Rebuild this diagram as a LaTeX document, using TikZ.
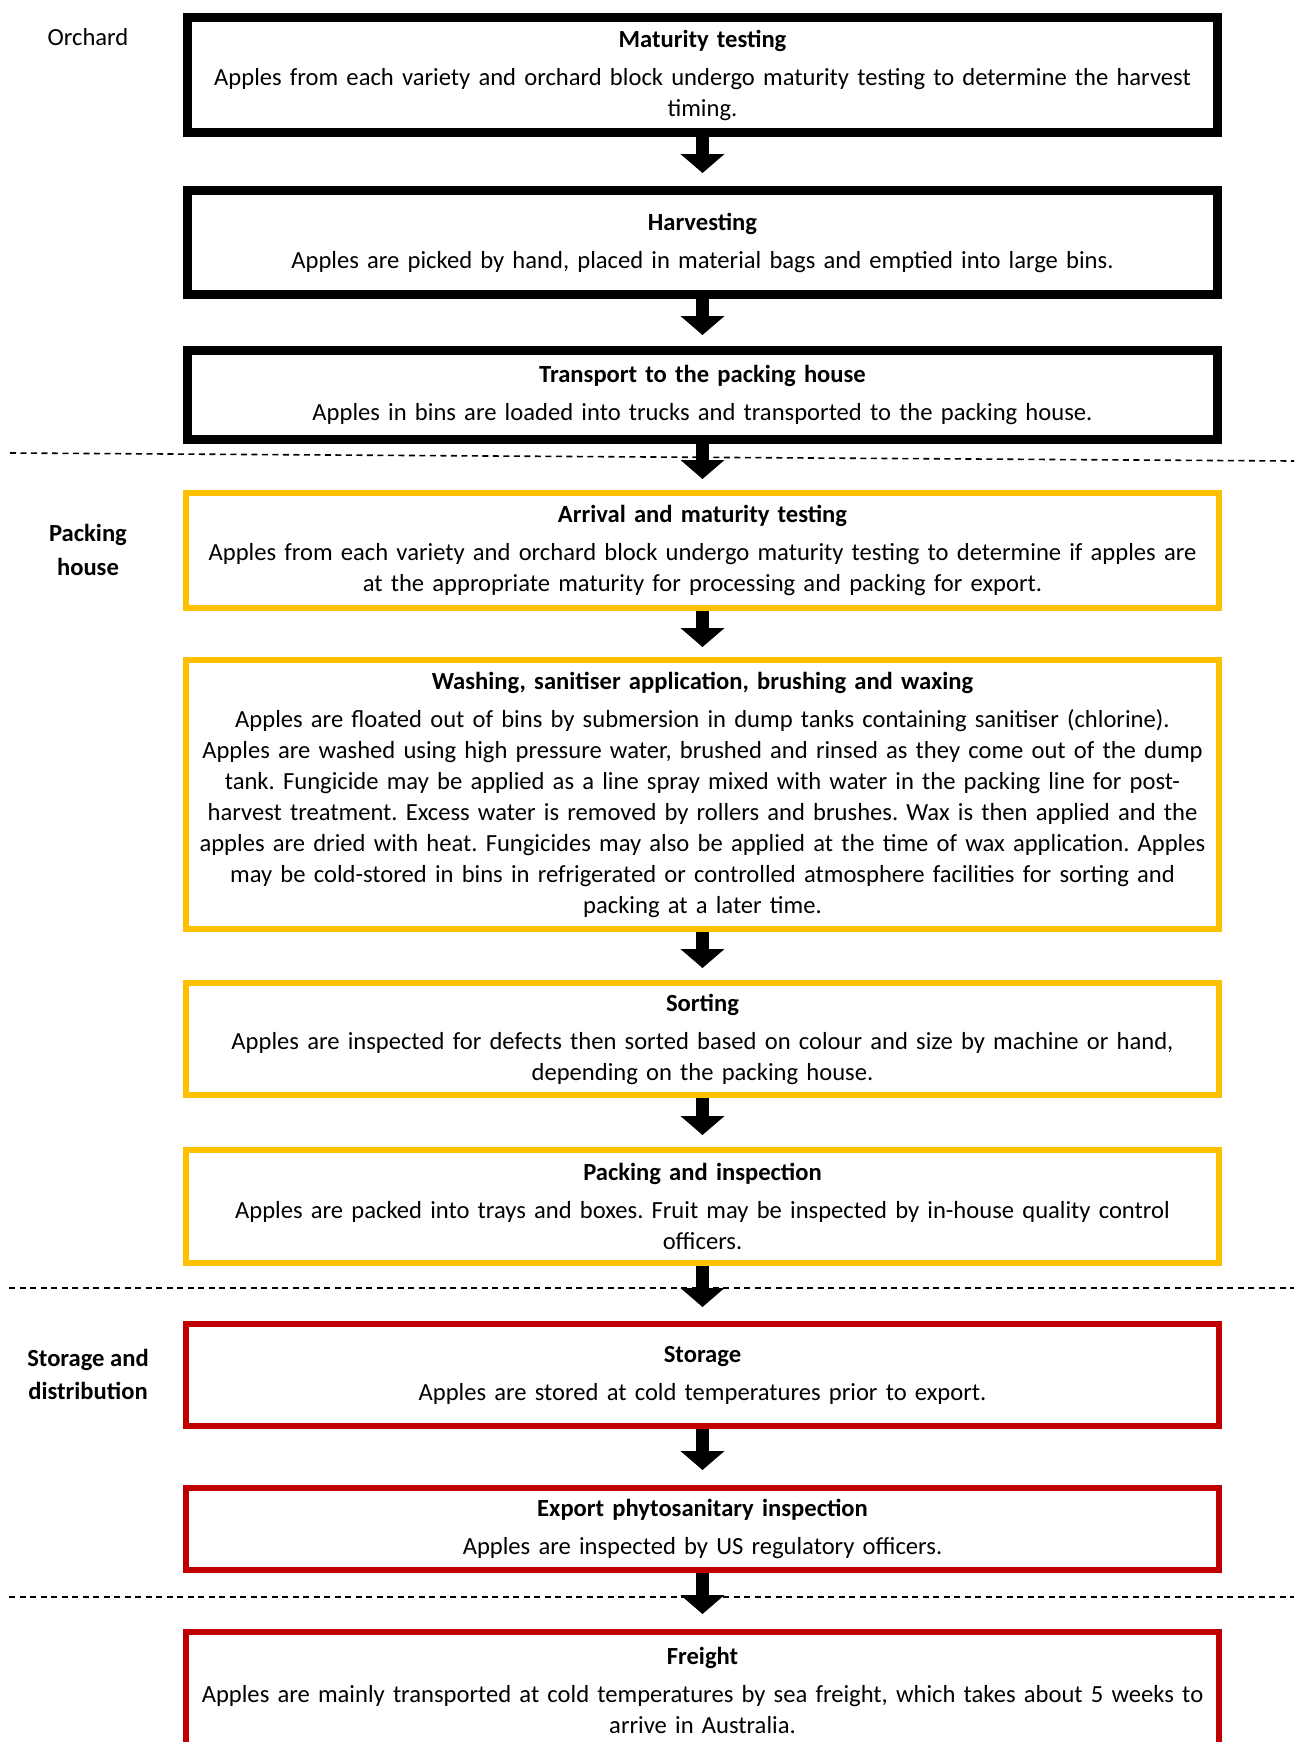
\documentclass[tikz,border=0pt]{standalone}
\usepackage{fontspec}
\setmainfont{Carlito}
\usepackage{tikz}
\usetikzlibrary{arrows.meta,positioning}
\definecolor{amber}{HTML}{FFC000}
\definecolor{darkred}{HTML}{C00000}
\tikzstyle{stage} = [draw,align=center,inner sep=0pt,text width=512pt]
\tikzstyle{orchardstage} = [stage,line width=4.5pt,minimum width=515pt]
\tikzstyle{packstage} = [stage,draw=amber,line width=3pt,minimum width=516.5pt]
\tikzstyle{exportstage} = [stage,draw=darkred,line width=3pt,minimum width=516.5pt]
\tikzstyle{flow} = [line width=6.5pt,-{Triangle[width=21.5pt,length=9.5pt]}]
\tikzstyle{divider} = [dash pattern=on 3pt off 2.25pt,line width=0.8pt]
\newcommand{\stagetext}[2]{\textbf{#1}\\[3.5pt]#2}

\begin{document}
\frenchspacing
\begin{tikzpicture}[x=0.5pt,y=-0.5pt,font=\fontsize{12.3pt}{15.5pt}\selectfont]
    \useasboundingbox (0,0) rectangle (1300,1742);
    \clip (0,0) rectangle (1300,1742);

    \node [anchor=center] (orchard) at (88,37) {Orchard};
    \node [align=center] (packing) at (88,550) {\textbf{Packing}\\[1.5pt]\textbf{house}};
    \node [align=center] (storage) at (88,1374) {\textbf{Storage and}\\[1pt]\textbf{distribution}};

    \draw [divider] (10,453) -- (1294,461);
    \draw [divider] (9,1288) -- (1294,1288);
    \draw [divider] (9,1597) -- (1294,1597);

    \node [orchardstage,minimum height=57.5pt] (b1) at (702.5,75)
      {\stagetext{Maturity testing}{Apples from each variety and orchard block undergo maturity testing to determine the harvest\\timing.}};
    \node [orchardstage,minimum height=52pt] (b2) at (702.5,242.5)
      {\stagetext{Harvesting}{Apples are picked by hand, placed in material bags and emptied into large bins.}};
    \node [orchardstage,minimum height=44.5pt] (b3) at (702.5,395)
      {\stagetext{Transport to the packing house}{Apples in bins are loaded into trucks and transported to the packing house.}};

    \node [packstage,minimum height=57.5pt] (b4) at (702.5,550.5)
      {\stagetext{Arrival and maturity testing}{Apples from each variety and orchard block undergo maturity testing to determine if apples are\\at the appropriate maturity for processing and packing for export.}};
    \node [packstage,minimum height=134.5pt] (b5) at (702.5,794.5)
      {\stagetext{Washing, sanitiser application, brushing and waxing}{Apples are floated out of bins by submersion in dump tanks containing sanitiser (chlorine).\\Apples are washed using high pressure water, brushed and rinsed as they come out of the dump\\tank. Fungicide may be applied as a line spray mixed with water in the packing line for post-\\harvest treatment. Excess water is removed by rollers and brushes. Wax is then applied and the\\apples are dried with heat. Fungicides may also be applied at the time of wax application. Apples\\may be cold-stored in bins in refrigerated or controlled atmosphere facilities for sorting and\\packing at a later time.}};
    \node [packstage,minimum height=56pt] (b6) at (702.5,1039)
      {\stagetext{Sorting}{Apples are inspected for defects then sorted based on colour and size by machine or hand,\\depending on the packing house.}};
    \node [packstage,minimum height=56.5pt] (b7) at (702.5,1206.5)
      {\stagetext{Packing and inspection}{Apples are packed into trays and boxes. Fruit may be inspected by in-house quality control\\officers.}};

    \node [exportstage,minimum height=51pt] (b8) at (702.5,1375)
      {\stagetext{Storage}{Apples are stored at cold temperatures prior to export.}};
    \node [exportstage,minimum height=41pt] (b9) at (702.5,1529)
      {\stagetext{Export phytosanitary inspection}{Apples are inspected by US regulatory officers.}};
    \node [exportstage,minimum height=58pt] (b10) at (702.5,1690)
      {\stagetext{Freight}{Apples are mainly transported at cold temperatures by sea freight, which takes about 5 weeks to\\arrive in Australia.}};

    \draw [flow,shorten >=6.5pt] (b1) -- (b2);
    \draw [flow,shorten >=5.5pt] (b2) -- (b3);
    \draw [flow,shorten >=5.5pt] (b3) -- (b4);
    \draw [flow,shorten >=5pt] (b4) -- (b5);
    \draw [flow,shorten >=6pt] (b5) -- (b6);
    \draw [flow,shorten >=6pt] (b6) -- (b7);
    \draw [flow,shorten >=7pt] (b7) -- (b8);
    \draw [flow,shorten >=7.5pt] (b8) -- (b9);
    \draw [flow,shorten >=7.5pt] (b9) -- (b10);
  \end{tikzpicture}
\end{document}
